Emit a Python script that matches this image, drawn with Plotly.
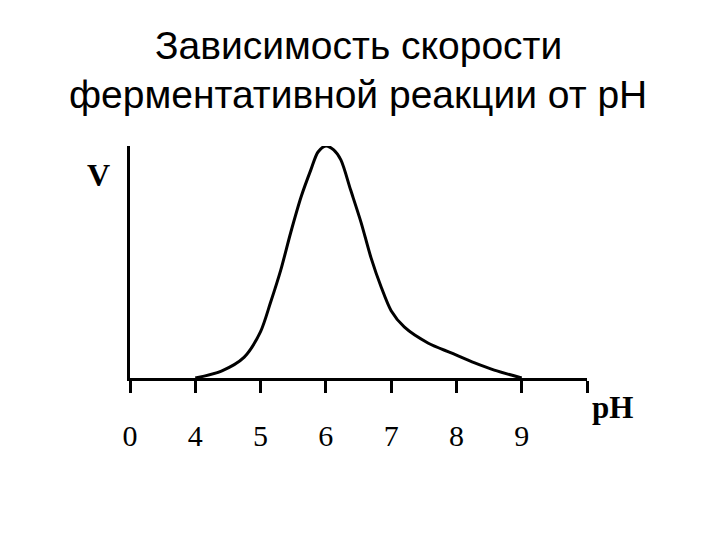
import plotly.graph_objects as go

# curve: pH vs relative rate V (peak = 1)
ph = [4.0, 4.4, 4.75, 5.0, 5.15, 5.31, 5.46, 5.62, 5.77, 5.88, 6.0, 6.12,
      6.23, 6.38, 6.54, 6.69, 6.85, 7.0, 7.2, 7.57, 7.92, 8.28, 8.58, 9.0]
v = [0.0, 0.03, 0.09, 0.2, 0.323, 0.466, 0.625, 0.78, 0.897, 0.974, 1.0, 0.983,
     0.94, 0.81, 0.67, 0.52, 0.39, 0.29, 0.22, 0.15, 0.108, 0.065, 0.034, 0.0]

tick_labels = ["0", "4", "5", "6", "7", "8", "9", ""]
tick_pos = list(range(len(tick_labels)))

title_lines = ["Зависимость скорости", "ферментативной реакции от pH"]

# axis is broken between 0 and 4: position = pH - 3
x_pos = [p - 3 for p in ph]

# plot area on screen: x 130..587, y 146..378 (page body adds 8px)
PL, PR, PT, PB = 130, 587, 146, 378
def px(sx):
    return (sx - PL) / (PR - PL)
def py(sy):
    return (PB - sy) / (PB - PT)

fig = go.Figure()
fig.add_trace(go.Scatter(
    x=x_pos, y=v, mode="lines",
    line=dict(color="black", width=3, shape="spline", smoothing=0.8),
    cliponaxis=False, hoverinfo="skip", showlegend=False,
))

annotations = []
for text, sy in zip(title_lines, [46, 94]):
    annotations.append(dict(
        text=text, xref="paper", yref="paper", x=px(358), y=py(sy),
        showarrow=False, xanchor="center", yanchor="middle",
        font=dict(family="Liberation Sans", size=39, color="black")))
annotations += [
    dict(text="<b>V</b>", xref="paper", yref="paper", x=px(98), y=py(175),
         showarrow=False, xanchor="center", yanchor="middle",
         font=dict(family="Liberation Serif", size=32, color="black")),
    dict(text="<b>pH</b>", xref="paper", yref="paper", x=px(612), y=py(407),
         showarrow=False, xanchor="center", yanchor="middle",
         font=dict(family="Liberation Serif", size=31, color="black")),
]

fig.update_layout(
    width=720, height=540,
    margin=dict(l=PL - 8, r=720 - (PR - 8), t=PT - 8, b=540 - (PB - 8)),
    paper_bgcolor="white", plot_bgcolor="white",
    xaxis=dict(
        range=[0, 7], tickvals=tick_pos, ticktext=tick_labels,
        showline=True, linecolor="black", linewidth=3,
        ticks="outside", ticklen=12, tickwidth=3, tickcolor="black",
        ticklabelstandoff=17,
        tickfont=dict(family="Liberation Serif", size=30, color="black"),
        showgrid=False, zeroline=False, fixedrange=True,
    ),
    yaxis=dict(
        range=[0, 1], showline=True, linecolor="black", linewidth=3,
        showticklabels=False, ticks="", showgrid=False, zeroline=False,
        fixedrange=True,
    ),
    annotations=annotations,
)

fig.write_html("out.html")
